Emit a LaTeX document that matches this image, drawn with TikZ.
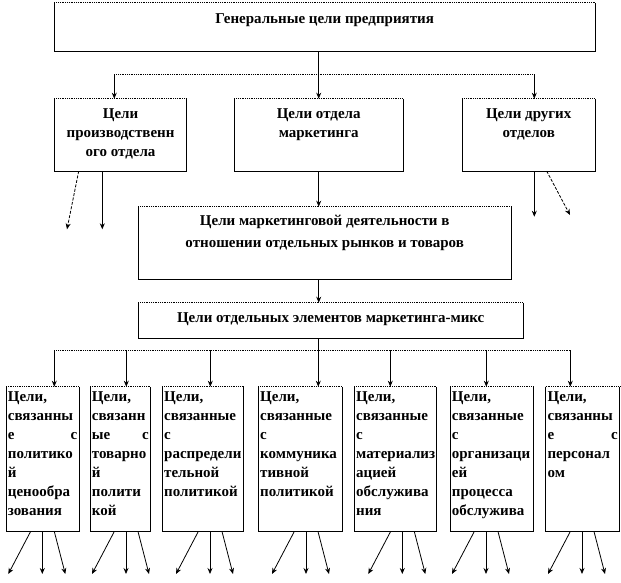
\documentclass[tikz,border=0pt]{standalone}
\usepackage{fontspec}
\setmainfont{Liberation Serif}
\usetikzlibrary{arrows.meta, positioning, calc}
\newcommand{\Cell}[3]{\parbox[t][#2][t]{#1}{#3}}
\tikzset{
    cell/.style={inner xsep=1.5pt, anchor=north west, font=\bfseries\fontsize{15}{19}\selectfont},
    bus/.style={densely dotted, line width=0.8pt},
    link/.style={-{Stealth[length=6pt, width=5pt]}, line width=0.8pt},
    slant/.style={link, dash pattern=on 3pt off 1.5pt},
}

\begin{document}
\begin{tikzpicture}[x=1pt, y=-1pt, line width=0.8pt]
    \useasboundingbox (0,0) rectangle (621,583);

    \node[cell, inner ysep=10.8pt] (gen) at (54.3,2.7) {\Cell{537pt}{26pt}{\centering Генеральные цели предприятия}};

    \node[cell, inner ysep=10pt] (prod) at (54.3,98.7) {\Cell{128.7pt}{51.6pt}{\centering Цели\\ производственн\\ ого отдела}};
    \node[cell, inner ysep=10pt] (mkt) at (234.3,98.7) {\Cell{165pt}{51.6pt}{\centering Цели отдела\\ маркетинга}};
    \node[cell, inner ysep=10pt] (oth) at (462.3,98.7) {\Cell{129pt}{51.6pt}{\centering Цели других\\ отделов}};

    \node[cell, inner ysep=8.3pt] (act) at (138.3,206.7) {\Cell{369pt}{55pt}{\centering Цели маркетинговой деятельности в\\[2.5pt] отношении отдельных рынков и товаров}};
    \node[cell, inner ysep=9.3pt] (mix) at (138.3,302.7) {\Cell{381pt}{16.7pt}{\centering Цели отдельных элементов маркетинга-микс}};

    \node[cell, inner ysep=5pt] (b1) at (6,386.7) {\Cell{69.3pt}{134pt}{\raggedright Цели,\\ связанны\\ е\hfill с\\ политико\\ й\\ ценообра\\ зования}};
    \node[cell, inner ysep=5pt] (b2) at (90,386.7) {\Cell{57pt}{134pt}{\raggedright Цели,\\ связанн\\ ые\hfill с\\ товарно\\ й\\ полити\\ кой}};
    \node[cell, inner ysep=5pt] (b3) at (162.3,386.7) {\Cell{77.4pt}{134pt}{\raggedright Цели,\\ связанные\\ с\\ распредели\\ тельной\\ политикой}};
    \node[cell, inner ysep=5pt] (b4) at (258.3,386.7) {\Cell{80.4pt}{134pt}{\raggedright Цели,\\ связанные\\ с\\ коммуника\\ тивной\\ политикой}};
    \node[cell, inner ysep=5pt] (b5) at (354.3,386.7) {\Cell{78.7pt}{134pt}{\raggedright Цели,\\ связанные\\ с\\ материализ\\ ацией\\ обслужива\\ ния}};
    \node[cell, inner ysep=5pt] (b6) at (450,386.7) {\Cell{79.3pt}{134pt}{\raggedright Цели,\\ связанные\\ с\\ организаци\\ ей\\ процесса\\ обслужива}};
    \node[cell, inner ysep=5pt] (b7) at (545.7,386.7) {\Cell{70.3pt}{134pt}{\raggedright Цели,\\ связанны\\ е\hfill с\\ персонал\\ ом}};

    % box frames, dotted on top
    \foreach \n in {gen, prod, mkt, oth, act, mix, b1, b2, b3, b4, b5, b6, b7} {
        \draw[bus] (\n.north west) -- (\n.north east);
        \draw (\n.north west) -- (\n.south west) -- (\n.south east) -- (\n.north east);
    }

    % top level
    \coordinate (busL) at (114.3,74.3);
    \coordinate (busR) at (534.3,74.3);
    \draw[bus] (busL) -- (busR);
    \draw[link] (gen.south -| mkt.north) -- (mkt.north);
    \draw[link] (busL) -- (busL |- prod.north);
    \draw[link] (busR) -- (busR |- oth.north);

    \coordinate (pV) at (102.3,229.3);
    \coordinate (pS) at (67,229.3);
    \draw[link] (prod.south -| pV) -- (pV);
    \draw[slant] ([xshift=-23.6pt]prod.south -| pV) -- (pS);

    \coordinate (oV) at (534.3,216.7);
    \coordinate (oS) at (570,215);
    \draw[link] (oth.south -| oV) -- (oV);
    \draw[slant] ([xshift=12.4pt]oth.south -| oV) -- (oS);

    \draw[link] (mkt.south) -- (mkt.south |- act.north);
    \draw[link] (act.south -| mkt.south) -- (mix.north -| mkt.south);

    % marketing mix
    \coordinate (mixL) at (54.3,350.3);
    \coordinate (mixR) at (570.3,350.3);
    \draw[bus] (mixL) -- (mixR);
    \draw (mix.south -| mkt.south) -- (mixL -| mkt.south);

    \foreach \n/\x in {b1/54.3, b2/126.3, b3/210.3, b4/318.3, b5/390.3, b6/486.3, b7/570.3} {
        \coordinate (t\n) at (\x,350.3);
        \draw[link] (t\n) -- (t\n |- \n.north);
    }

    \foreach \n/\v in {b1/42.3, b2/126, b3/210, b4/306, b5/402.3, b6/486, b7/582} {
        \coordinate (d\n) at (\v,574);
        \draw[link] (\n.south -| d\n) -- (d\n);
        \draw[link] ([xshift=-11.7pt]\n.south -| d\n) -- ([xshift=-34pt]d\n);
        \draw[link] ([xshift=12pt]\n.south -| d\n) -- ([xshift=23pt]d\n);
    }
\end{tikzpicture}
\end{document}
